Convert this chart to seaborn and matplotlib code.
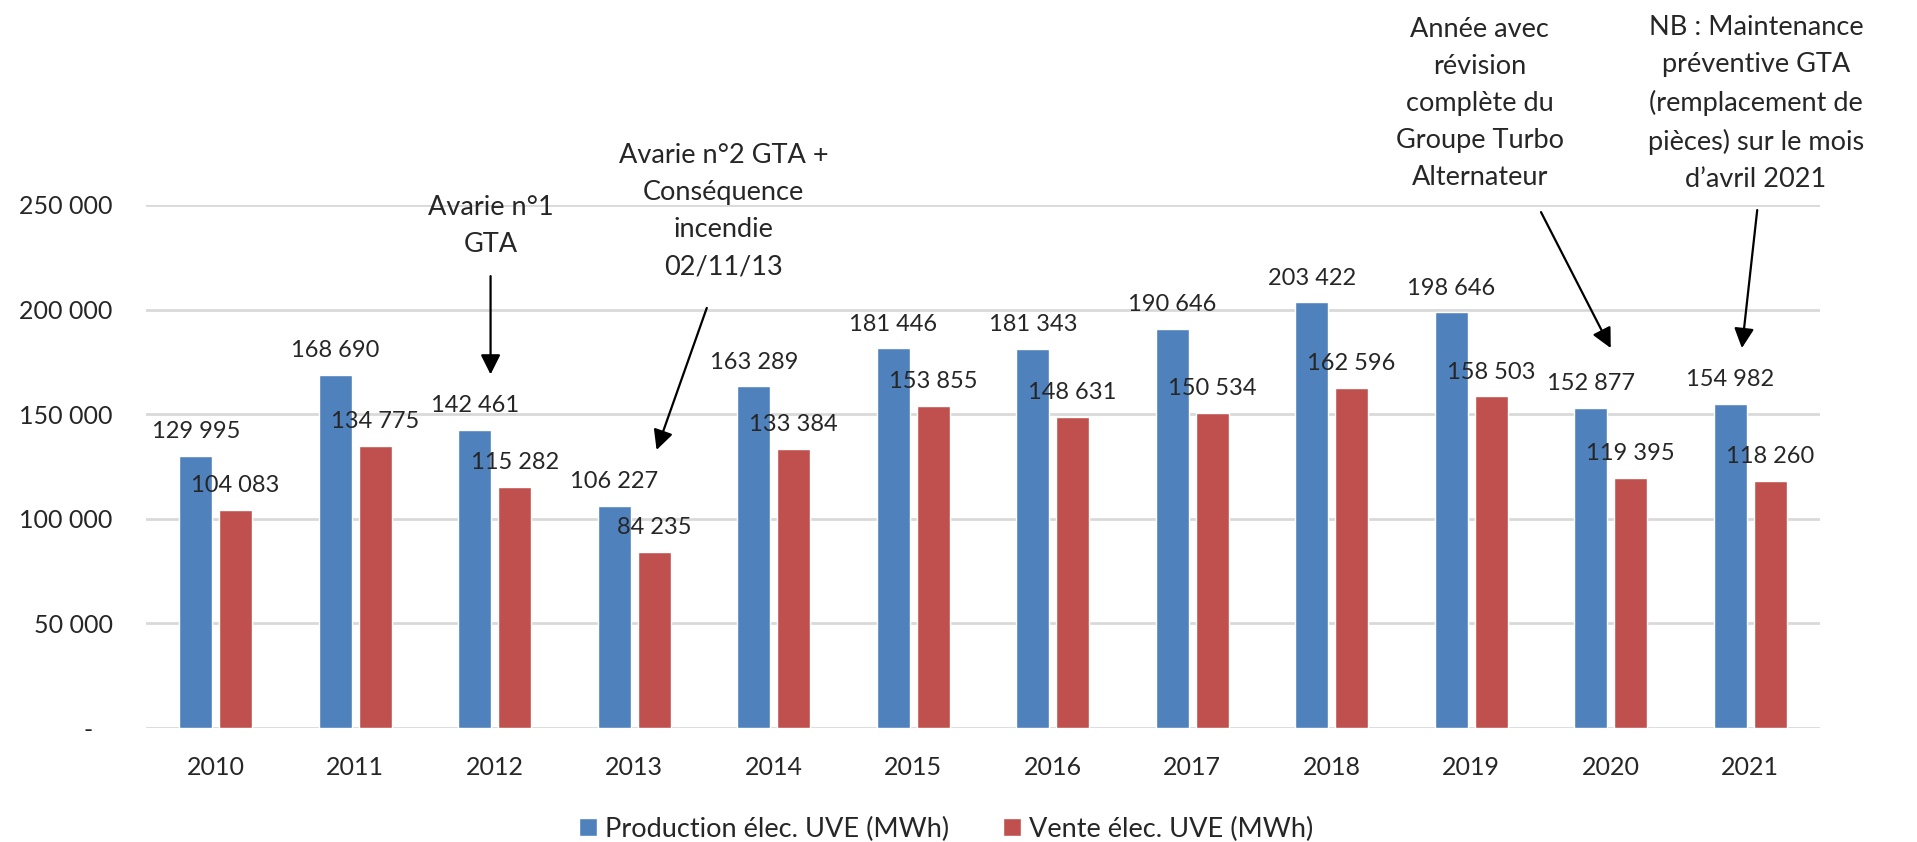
import pandas as pd
import seaborn as sns
import matplotlib.pyplot as plt

# Données
annees = ['2010', '2011', '2012', '2013', '2014', '2015',
          '2016', '2017', '2018', '2019', '2020', '2021']
production = [129995, 168690, 142461, 106227, 163289, 181446,
              181343, 190646, 203422, 198646, 152877, 154982]
vente = [104083, 134775, 115282, 84235, 133384, 153855,
         148631, 150534, 162596, 158503, 119395, 118260]
series = ['Production élec. UVE (MWh)', 'Vente élec. UVE (MWh)']
yticks = [0, 50000, 100000, 150000, 200000, 250000]

df = pd.DataFrame({'annee': annees * 2,
                   'valeur': production + vente,
                   'serie': [series[0]] * 12 + [series[1]] * 12})

sns.set_style("white")
plt.rcParams['font.family'] = ['Lato', 'DejaVu Sans']

fig = plt.figure(figsize=(19.17, 8.42), dpi=100)
ax = fig.add_axes([146 / 1917, 1 - 728 / 842, 1674 / 1917, 523 / 842])

sns.barplot(data=df, x='annee', y='valeur', hue='serie',
            palette=['#4F81BD', '#C0504D'], width=0.57, gap=0.17,
            saturation=1, legend=False, ax=ax)

def fmt(v):
    return f"{v:,.0f}".replace(",", " ")

for cont in ax.containers:
    ax.bar_label(cont, labels=[fmt(b.get_height()) for b in cont],
                 padding=10, fontsize=17)

ax.set_xlim(-0.5, 11.5)
ax.set_ylim(0, 250000)
ax.set_yticks(yticks)
ax.set_yticklabels(['-   '] + [fmt(v) for v in yticks[1:]])
ax.yaxis.grid(True, color='#D9D9D9', lw=2)
ax.set_axisbelow(True)
ax.tick_params(axis='y', length=0, pad=24, labelsize=18)
ax.tick_params(axis='x', length=0, pad=20, labelsize=18)
ax.set_xlabel('')
ax.set_ylabel('')
sns.despine(ax=ax, left=True, bottom=True)

# Annotations
arrow = dict(arrowstyle='-|>,head_length=0.6,head_width=0.3',
             mutation_scale=20, lw=1.6, color='black',
             shrinkA=0, shrinkB=0)
notes = [
    ("Avarie n°1\nGTA", (1.97, 240000), (1.97, 216000), (1.97, 169000)),
    ("Avarie n°2 GTA +\nConséquence\nincendie\n02/11/13",
     (3.64, 247000), (3.52, 200800), (3.16, 132900)),
    ("Année avec\nrévision\ncomplète du\nGroupe Turbo\nAlternateur",
     (9.06, 298500), (9.50, 246600), (10.00, 181600)),
    ("NB : Maintenance\npréventive GTA\n(remplacement de\npièces) sur le mois\nd’avril 2021",
     (11.04, 298500), (11.05, 247600), (10.94, 181600)),
]
for txt, pos, tail, tip in notes:
    ax.text(pos[0], pos[1], txt, ha='center', va='center', fontsize=19.5,
            linespacing=1.6, clip_on=False)
    ax.annotate('', xy=tip, xytext=tail, arrowprops=arrow,
                annotation_clip=False)

fig.legend(ax.containers, series, loc='center',
           bbox_to_anchor=(946 / 1917, 1 - 829 / 842), ncol=2,
           frameon=False, fontsize=19.5, handlelength=0.65, handleheight=0.65,
           handletextpad=0.3, columnspacing=2.0)

fig.savefig('out.png', dpi=100)
